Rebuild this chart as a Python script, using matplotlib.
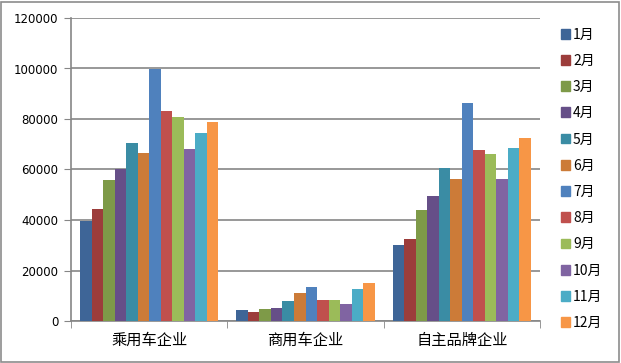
import matplotlib
matplotlib.use("Agg")
import matplotlib.pyplot as plt
import numpy as np
from matplotlib.patches import Rectangle, Patch

plt.rcParams['font.family'] = ['Noto Sans CJK SC', 'DejaVu Sans']

categories = ["乘用车企业", "商用车企业", "自主品牌企业"]
months = ["1月", "2月", "3月", "4月", "5月", "6月", "7月", "8月", "9月", "10月", "11月", "12月"]
values = {
    "1月": [39700, 4400, 30100],
    "2月": [44400, 3600, 32500],
    "3月": [55800, 4800, 44000],
    "4月": [60200, 5100, 49500],
    "5月": [70500, 7900, 60600],
    "6月": [66500, 11100, 56200],
    "7月": [99800, 13500, 86300],
    "8月": [83200, 8300, 67700],
    "9月": [80800, 8300, 66100],
    "10月": [68100, 6700, 56200],
    "11月": [74500, 12700, 68500],
    "12月": [78800, 15100, 72500],
}
colors = ["#3E6597", "#9C3D3B", "#7E9A48", "#664F88", "#3A8CA4", "#CC7B38",
          "#4F81BD", "#C0504D", "#9BBB59", "#8064A2", "#4BACC6", "#F79646"]
yticks = [0, 20000, 40000, 60000, 80000, 100000, 120000]

W, H = 621, 363
fig = plt.figure(figsize=(W / 100, H / 100), dpi=100)
fig.patches.append(Rectangle((1 / W, 1 / H), 1 - 3 / W, 1 - 3 / H, transform=fig.transFigure,
                             fill=False, edgecolor="#8C8C8C", linewidth=1.2))
ax = fig.add_axes([71 / W, (H - 321) / H, 469 / W, 303 / H])

x = np.arange(len(categories))
n = len(months)
group = 0.885
bw = group / n
for i, m in enumerate(months):
    ax.bar(x - group / 2 + bw * (i + 0.5), values[m], width=bw, color=colors[i],
           linewidth=0, zorder=3, label=m)

grid_c = "#868686"
ax.set_xlim(-0.5, 2.5)
ax.set_ylim(0, 120000)
ax.set_yticks(yticks)
ax.set_yticklabels([str(v) for v in yticks], fontsize=8.5, family="DejaVu Sans")
ax.yaxis.grid(True, color=grid_c, linewidth=1.2, zorder=0)
ax.set_xticks(x)
ax.set_xticklabels(categories, fontsize=11)
ax.tick_params(axis='x', length=0, pad=8)
ax.set_xticks([-0.5, 0.5, 1.5, 2.5], minor=True)
ax.tick_params(axis='x', which='minor', length=5, color=grid_c, direction='out')
ax.tick_params(axis='y', length=5, color=grid_c, direction='out', pad=4)
for s in ["top", "right"]:
    ax.spines[s].set_visible(False)
for s in ["left", "bottom"]:
    ax.spines[s].set_color(grid_c)
    ax.spines[s].set_linewidth(1.2)

handles = [Patch(color=colors[i], label=m) for i, m in enumerate(months)]
fig.legend(handles=handles, loc="upper left", bbox_to_anchor=(555 / W, 1 - 22 / H),
           frameon=False, fontsize=10, handlelength=0.7, handleheight=0.7,
           handletextpad=0.2, labelspacing=0.88, borderaxespad=0)

fig.savefig("out.png", dpi=100)
